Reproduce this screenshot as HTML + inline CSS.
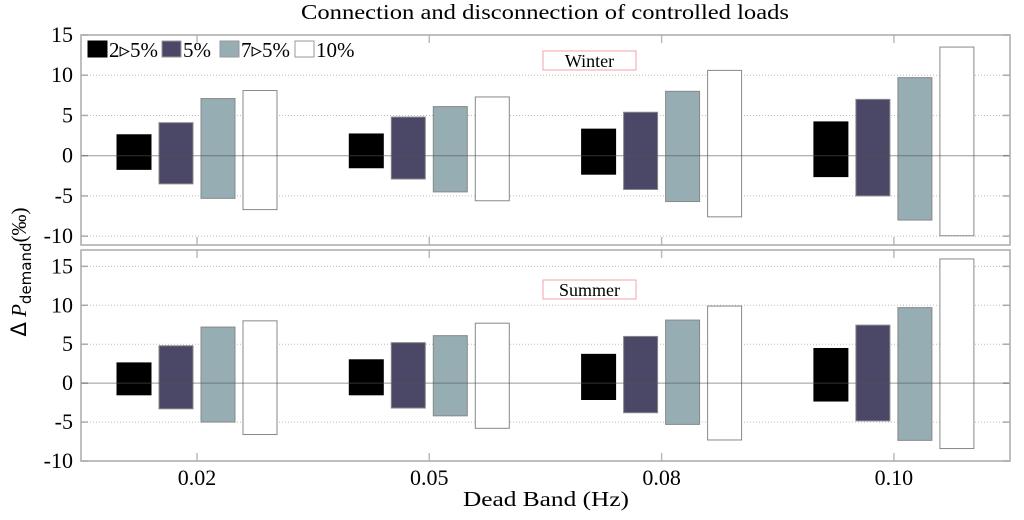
<!DOCTYPE html>
<html><head><meta charset="utf-8"><style>
html,body{margin:0;padding:0;background:#fff;}
svg{display:block;font-family:"Liberation Serif",serif;}
</style></head><body>
<svg id="chart" width="1024" height="520" viewBox="0 0 1024 520" xmlns="http://www.w3.org/2000/svg">
<text x="545" y="19" font-size="21" text-anchor="middle" textLength="488" lengthAdjust="spacingAndGlyphs">Connection and disconnection of controlled loads</text>
<text x="546" y="506" font-size="21" text-anchor="middle" textLength="166" lengthAdjust="spacingAndGlyphs">Dead Band (Hz)</text>
<text transform="translate(26,272) rotate(-90)" font-size="21" text-anchor="middle"><tspan font-family="DejaVu Sans">Δ</tspan> <tspan font-style="italic">P</tspan><tspan font-family="DejaVu Sans" font-size="15" dy="5">demand</tspan><tspan dy="-5">(‰)</tspan></text>
<g id="plots"></g>
</svg>
<script>
const categories = ["0.02","0.05","0.08","0.10"];
const seriesNames = ["2▹5%","5%","7▹5%","10%"];
const winterUp   = [[2.6,2.7,3.3,4.2],[4.1,4.8,5.4,7.0],[7.1,6.1,8.0,9.7],[8.1,7.3,10.6,13.5]];
const winterDown = [[-1.7,-1.5,-2.3,-2.6],[-3.5,-2.9,-4.2,-5.0],[-5.3,-4.5,-5.7,-8.0],[-6.7,-5.6,-7.6,-9.95]];
const summerUp   = [[2.6,3.0,3.7,4.45],[4.8,5.2,6.0,7.45],[7.2,6.1,8.1,9.7],[8.0,7.7,9.9,15.95]];
const summerDown = [[-1.5,-1.5,-2.1,-2.3],[-3.3,-3.2,-3.8,-4.85],[-5.0,-4.2,-5.3,-7.35],[-6.6,-5.8,-7.3,-8.4]];
const winterTicks = [15,10,5,0,-5,-10];
const summerTicks = [15,10,5,0,-5,-10];
const colors = ["#000000","#4a4866","#95adb3","#ffffff"];
const NS="http://www.w3.org/2000/svg";
const g=document.getElementById('plots');
function mk(tag,attrs,parent){const e=document.createElementNS(NS,tag);for(const k in attrs)e.setAttribute(k,attrs[k]);(parent||g).appendChild(e);return e;}
const L=81,R=1010;
const xScale=i=>197+i*232.3;
const offs=[-80,-38,4,46];
function panel(name,top,bottom,yMax,yMin,ticks,up,down,label,labelY){
  const y=v=>top+(yMax-v)/(yMax-yMin)*(bottom-top);
  const pg=mk('g',{});
  
  
  ticks.forEach(t=>{
    const gy=y(t);
    if(t!==0){const gl=mk('line',{x1:L,x2:R,y1:gy,y2:gy,stroke:'#bbb','stroke-dasharray':'1,2','stroke-width':1},pg);
      }
    mk('line',{x1:L,x2:L+7,y1:gy,y2:gy,stroke:'#aaa','stroke-width':1.5},pg);
    mk('line',{x1:R-7,x2:R,y1:gy,y2:gy,stroke:'#aaa','stroke-width':1.5},pg);
    const tl=mk('text',{x:L-8,y:gy+7,'font-size':22,'text-anchor':'end'},pg);
    tl.textContent=t;
    
  });
  categories.forEach((c,i)=>{
    const cx=xScale(i);
    mk('line',{x1:cx,x2:cx,y1:top,y2:top+8,stroke:'#bbb','stroke-width':1.5},pg);
    mk('line',{x1:cx,x2:cx,y1:bottom-8,y2:bottom,stroke:'#bbb','stroke-width':1.5},pg);
    seriesNames.forEach((s,k)=>{
      const y1=y(up[k][i]),y2=y(down[k][i]);
      const b=mk('rect',{x:cx+offs[k],y:y1,width:34,height:y2-y1,fill:colors[k],stroke:k===0?'#000':'#888','stroke-width':1},pg);
      
      
    });
  });
  const z=y(0);
  mk('line',{x1:L,x2:R,y1:z,y2:z,stroke:'#555','stroke-opacity':0.6,'stroke-width':1},pg);
  const fr=mk('rect',{x:L,y:top,width:R-L,height:bottom-top,fill:'none',stroke:'#aaa','stroke-width':1.5},pg);
  
  const lb=mk('rect',{x:543,y:labelY-10,width:93,height:19,fill:'#fff',stroke:'#f4a0a8','stroke-width':1},pg);
  
  const lt=mk('text',{x:589.5,y:labelY+6,'font-size':18,'text-anchor':'middle'},pg);
  lt.textContent=label;
  
  return y;
}
panel('winter',35,245,15,-11.1,winterTicks,winterUp,winterDown,'Winter',61);
panel('summer',250,461,17.1,-10,summerTicks,summerUp,summerDown,'Summer',290);
categories.forEach((c,i)=>{
  const t=mk('text',{x:xScale(i),y:485,'font-size':22,'text-anchor':'middle'});
  t.textContent=c;
  
  
});
const lg=mk('g',{});


const lx=[88,162,220,295];
seriesNames.forEach((s,k)=>{
  const e=mk('g',{},lg);
  
  
  mk('rect',{x:lx[k],y:41,width:19,height:16,fill:colors[k],stroke:k===0?'#000':'#999','stroke-width':1},e);
  const t=mk('text',{x:lx[k]+21,y:57,'font-size':21},e);
  t.textContent=s;
});
</script>
</body></html>
